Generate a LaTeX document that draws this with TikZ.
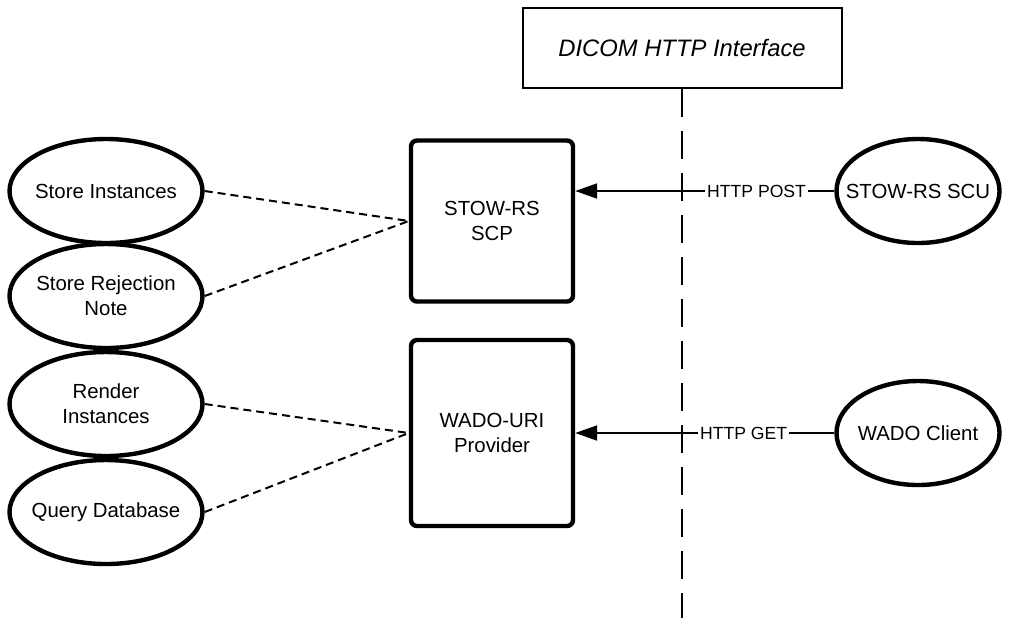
\documentclass[tikz,border=0pt]{standalone}
\usepackage{fontspec}
\setmainfont{Liberation Sans}
\usepackage{tikz}
\usetikzlibrary{
  arrows.meta,
  positioning,
  shapes.geometric
}

\begin{document}
\begin{tikzpicture}[
  x=0.5pt, y=-0.5pt,
  task/.style={draw, ellipse, line width=2.2pt, inner xsep=-9pt, inner ysep=0pt,
               minimum width=96.5pt, minimum height=52pt,
               font=\fontsize{10.2}{12.5}\selectfont, align=center},
  client/.style={task, minimum width=81.5pt},
  service/.style={draw, line width=2.2pt, rounded corners=3pt,
                  minimum width=81pt, font=\fontsize{10.2}{12.5}\selectfont,
                  align=center},
  req/.style={-{Triangle[length=11pt, width=7.5pt]}, line width=1pt},
  reqlbl/.style={font=\fontsize{8.8}{10}\selectfont, fill=white, inner sep=1pt},
  uses/.style={dashed, dash pattern=on 4pt off 2.5pt, line width=1pt},
]
  \useasboundingbox (0,0) rectangle (1020,618);

  % Interface
  \node[draw, line width=1pt, minimum width=159.5pt, minimum height=40pt,
        font=\fontsize{11.9}{13}\selectfont\itshape] (iface) at (682,48)
    {DICOM HTTP Interface};
  \coordinate (ifaceend) at (682,618);
  \draw[line width=1pt, dash pattern=on 14pt off 7pt] (iface.south) -- (ifaceend);

  % Services
  \node[service, minimum height=80.5pt] (stow) at (492,221) {STOW-RS\\SCP};
  \node[service, minimum height=93pt] (wado) at (492,433) {WADO-URI\\Provider};

  % Clients
  \node[client] (stowscu) at (918,191) {STOW-RS SCU};
  \node[client] (wadocl) at (918,433) {WADO Client};

  \draw[req] (stowscu.west) -- (stowscu.west -| stow.east)
    node[pos=0.3, reqlbl] {HTTP POST};
  \draw[req] (wadocl.west) -- (wado.east)
    node[pos=0.35, reqlbl] {HTTP GET};

  % Tasks
  \node[task] (store) at (106,191) {Store Instances};
  \node[task] (reject) at (106,296) {Store Rejection\\Note};
  \node[task] (render) at (106,404) {Render\\Instances};
  \node[task] (query) at (106,512) {Query Database};

  \draw[uses] (store.east) -- (stow.west);
  \draw[uses] (reject.east) -- (stow.west);
  \draw[uses] (render.east) -- (wado.west);
  \draw[uses] (query.east) -- (wado.west);

\end{tikzpicture}
\end{document}
